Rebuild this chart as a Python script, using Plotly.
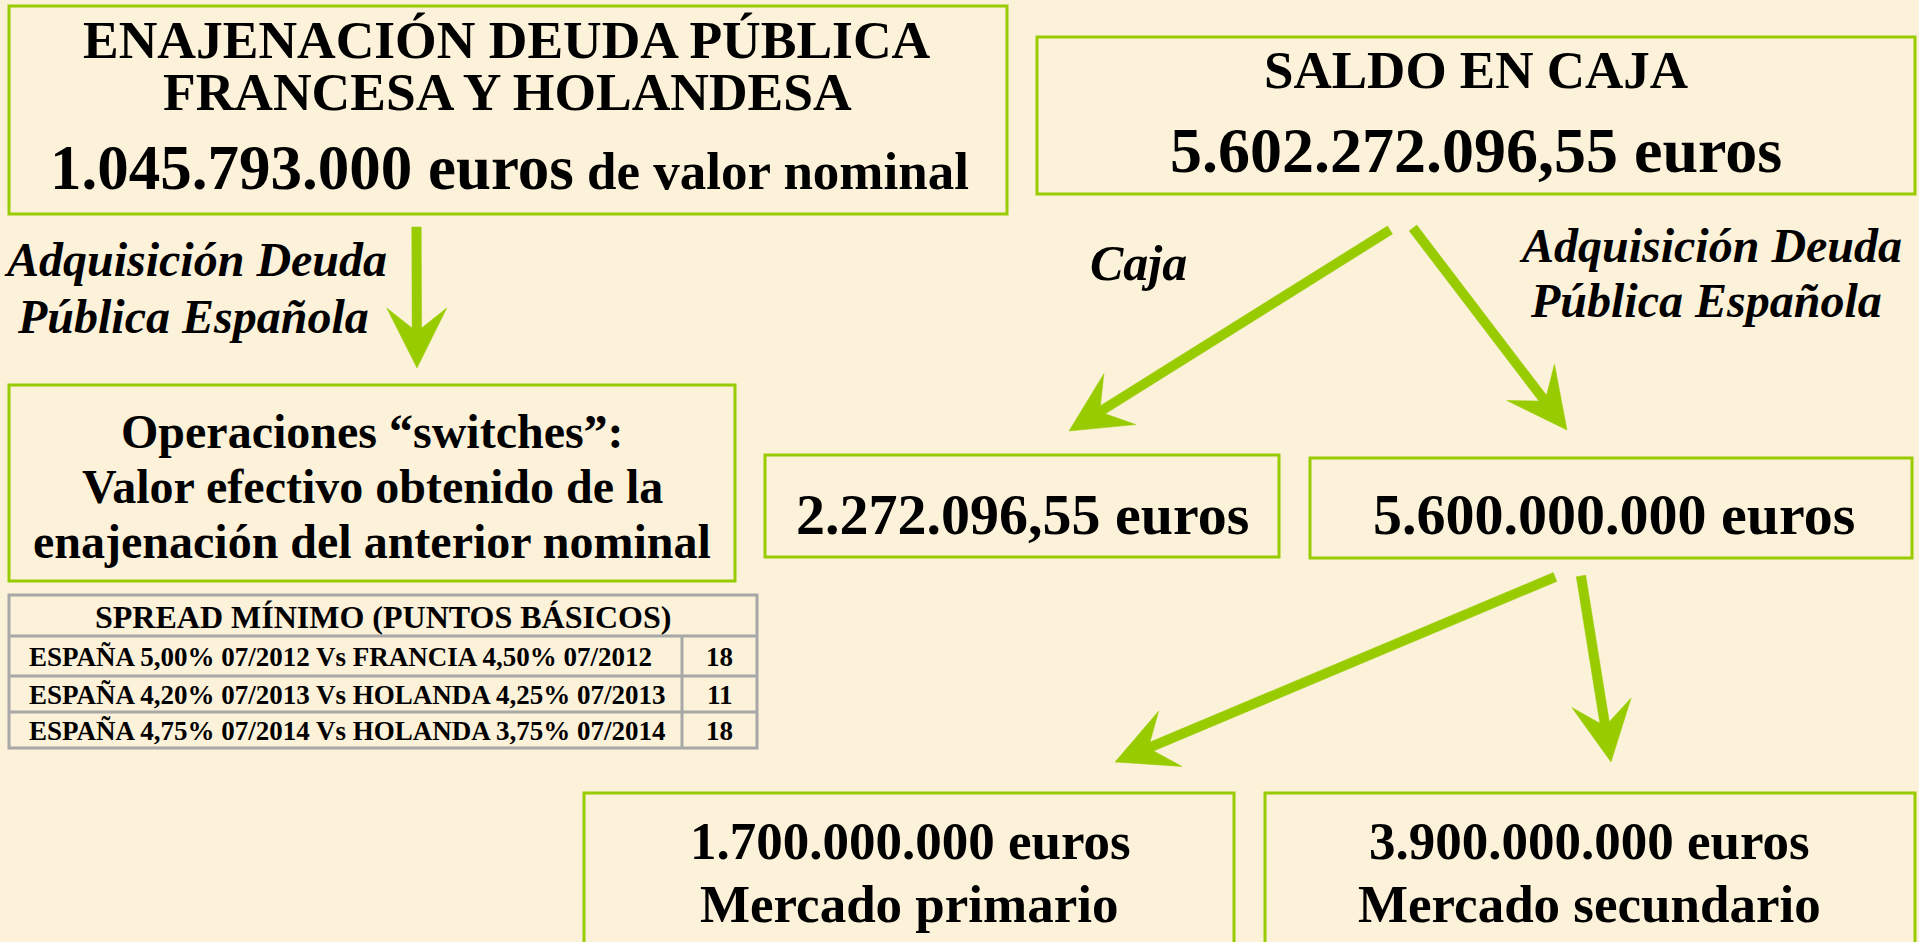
import math
import plotly.graph_objects as go

# ---------------- data (texts / values) ----------------
sale_title = ["ENAJENACIÓN DEUDA PÚBLICA", "FRANCESA Y HOLANDESA"]
sale_nominal = "1.045.793.000"
sale_nominal_unit = "euros"
sale_nominal_tail = "de valor nominal"

label_acq = ["Adquisición Deuda", "Pública Española"]
label_cash = "Caja"

switch_text = ["Operaciones “switches”:", "Valor efectivo obtenido de la",
               "enajenación del anterior nominal"]

spread_header = "SPREAD MÍNIMO (PUNTOS BÁSICOS)"
spread_pairs = ["ESPAÑA 5,00% 07/2012 Vs FRANCIA 4,50% 07/2012",
                "ESPAÑA 4,20% 07/2013 Vs HOLANDA 4,25% 07/2013",
                "ESPAÑA 4,75% 07/2014 Vs HOLANDA 3,75% 07/2014"]
spread_bp = [18, 11, 18]

cash_title = "SALDO EN CAJA"
cash_total = "5.602.272.096,55"
cash_kept = "2.272.096,55"
cash_invested = "5.600.000.000"
primary_amount = "1.700.000.000"
secondary_amount = "3.900.000.000"
market_names = ["Mercado primario", "Mercado secundario"]
unit = "euros"

# ---------------- styling / geometry ----------------
W, H = 1919, 942
BG = "#FCF1D9"
GREEN = "#99CC00"
GRAY = "#A8A8A8"
FONT = "Times New Roman, Liberation Serif, Tinos, serif"

boxes = [  # x0, y0, x1, y1
    (9, 6, 1007, 214),      # sale
    (9, 385, 735, 581),     # switches
    (1037, 37, 1915, 194),  # saldo
    (765, 455, 1279, 557),  # caja
    (1310, 458, 1912, 558), # invested
    (584, 793, 1234, 960),  # primary
    (1265, 793, 1915, 960), # secondary
]

arrows = [  # start, tip
    ((416.5, 227), (417, 368)),
    ((1390, 230), (1069, 431)),
    ((1413, 228), (1567, 430)),
    ((1555, 577), (1115, 762)),
    ((1581, 576), (1611, 762)),
]

fig = go.Figure()
shapes = []
ann = []

for (x0, y0, x1, y1) in boxes:
    shapes.append(dict(type="rect", x0=x0, y0=y0, x1=x1, y1=y1,
                       line=dict(color=GREEN, width=3), fillcolor="rgba(0,0,0,0)",
                       layer="below"))


def arrow_path(start, tip, shaft_w=9.5, head_len=60, head_hw=30, notch=40):
    (x0, y0), (x1, y1) = start, tip
    dx, dy = x1 - x0, y1 - y0
    L = math.hypot(dx, dy)
    ux, uy = dx / L, dy / L
    px, py = -uy, ux
    bx, by = x1 - ux * notch, y1 - uy * notch
    hx, hy = x1 - ux * head_len, y1 - uy * head_len
    s = shaft_w / 2
    pts = [
        (x0 + px * s, y0 + py * s),
        (bx + px * s, by + py * s),
        (hx + px * head_hw, hy + py * head_hw),
        (x1, y1),
        (hx - px * head_hw, hy - py * head_hw),
        (bx - px * s, by - py * s),
        (x0 - px * s, y0 - py * s),
    ]
    return "M " + " L ".join(f"{x:.1f},{y:.1f}" for x, y in pts) + " Z"


for st, tp in arrows:
    shapes.append(dict(type="path", path=arrow_path(st, tp), fillcolor=GREEN,
                       line=dict(color=GREEN, width=0.5)))


def text(x, y, t, size, xanchor="center", color="black"):
    ann.append(dict(x=x, y=y, xref="x", yref="y", text=t, showarrow=False,
                    xanchor=xanchor, yanchor="middle",
                    font=dict(family=FONT, size=size, color=color)))


# sale box
text(507, 40, f"<b>{sale_title[0]}</b>", 53.5)
text(507, 92, f"<b>{sale_title[1]}</b>", 53.5)
text(509, 168, f"<b>{sale_nominal} {sale_nominal_unit}"
               f"<span style='font-size:53px'> {sale_nominal_tail}</span></b>", 63)

# left labels
text(195, 259, f"<b><i>{label_acq[0]}</i></b>", 48)
text(193, 316, f"<b><i>{label_acq[1]}</i></b>", 48)

# switches box
text(372, 431, f"<b>{switch_text[0]}</b>", 48)
text(372, 486, f"<b>{switch_text[1]}</b>", 48)
text(372, 541, f"<b>{switch_text[2]}</b>", 48)

# spread table
tx0, tx1, tcol = 9, 757, 682
row_edges = [595, 636, 676, 712, 748]
shapes.append(dict(type="rect", x0=tx0, y0=row_edges[0], x1=tx1, y1=row_edges[-1],
                   line=dict(color=GRAY, width=3), fillcolor="rgba(0,0,0,0)"))
for ry in row_edges[1:-1]:
    shapes.append(dict(type="line", x0=tx0, x1=tx1, y0=ry, y1=ry,
                       line=dict(color=GRAY, width=3)))
shapes.append(dict(type="line", x0=tcol, x1=tcol, y0=row_edges[1], y1=row_edges[-1],
                   line=dict(color=GRAY, width=3)))
text((tx0 + tx1) / 2, (row_edges[0] + row_edges[1]) / 2 + 1, f"<b>{spread_header}</b>", 32)
for i, (pair, bp) in enumerate(zip(spread_pairs, spread_bp)):
    yc = (row_edges[i + 1] + row_edges[i + 2]) / 2 + 1
    text(27, yc, f"<b>{pair}</b>", 27, xanchor="left")
    text((tcol + tx1) / 2, yc, f"<b>{bp}</b>", 27)

# saldo box
text(1476, 70, f"<b>{cash_title}</b>", 53)
text(1476, 150, f"<b>{cash_total} {unit}</b>", 64)

# right labels
text(1138, 263, f"<b><i>{label_cash}</i></b>", 50)
text(1710, 245, f"<b><i>{label_acq[0]}</i></b>", 48)
text(1706, 300, f"<b><i>{label_acq[1]}</i></b>", 48)

# middle boxes
text(1022, 514, f"<b>{cash_kept} {unit}</b>", 58)
text(1614, 514, f"<b>{cash_invested} {unit}</b>", 58)

# bottom boxes
text(910, 841, f"<b>{primary_amount} {unit}</b>", 53)
text(909, 904, f"<b>{market_names[0]}</b>", 53)
text(1589, 841, f"<b>{secondary_amount} {unit}</b>", 53)
text(1589, 904, f"<b>{market_names[1]}</b>", 53)

fig.update_layout(
    width=W, height=H, margin=dict(l=0, r=0, t=0, b=0),
    paper_bgcolor=BG, plot_bgcolor=BG,
    xaxis=dict(range=[0, W], visible=False, fixedrange=True),
    yaxis=dict(range=[H, 0], visible=False, fixedrange=True),
    shapes=shapes, annotations=ann, showlegend=False,
)

fig.write_html("out.html", config={"displayModeBar": False},
               post_script="document.body.style.margin='0';document.body.style.overflow='hidden';")
